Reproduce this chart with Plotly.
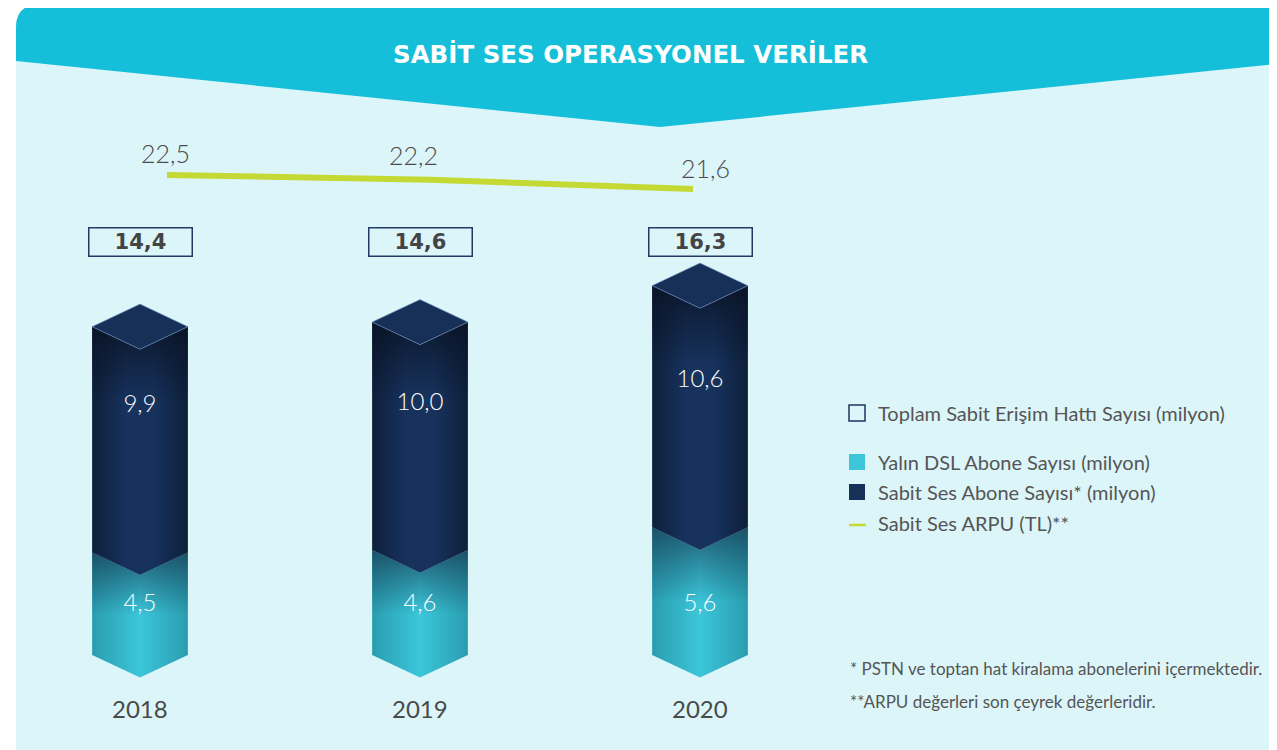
import plotly.graph_objects as go

# --- data -------------------------------------------------------------
years = ["2018", "2019", "2020"]
dsl = [4.5, 4.6, 5.6]            # Yalın DSL Abone Sayısı (milyon)
sabit_ses = [9.9, 10.0, 10.6]    # Sabit Ses Abone Sayısı* (milyon)
toplam = [14.4, 14.6, 16.3]      # Toplam Sabit Erişim Hattı Sayısı (milyon)
arpu = [22.5, 22.2, 21.6]        # Sabit Ses ARPU (TL)**

legend_labels = [
    "Toplam Sabit Erişim Hattı Sayısı (milyon)",
    "Yalın DSL Abone Sayısı (milyon)",
    "Sabit Ses Abone Sayısı* (milyon)",
    "Sabit Ses ARPU (TL)**",
]
notes = [
    "* PSTN ve toptan hat kiralama abonelerini içermektedir.",
    "**ARPU değerleri son çeyrek değerleridir.",
]
title = "SABİT SES OPERASYONEL VERİLER"

# --- style ------------------------------------------------------------
W, H = 1277, 750
OFF = 8          # page body margin
BANNER = "#15bfd9"
PANEL = "#dcf5f9"
NAVY_EDGE = "#0e1f3b"
NAVY_MID = "#17325c"
NAVY_TOP = "#163058"
CYAN_EDGE = "#2a9db0"
CYAN_MID = "#3cc6da"
LIME = "#c5d935"
TXT = "#4a4a4a"
FONT = "Lato"

HALF_W = 0.171   # half width of a prism (x units)
DEPTH = 0.99     # depth of the diamond top / chevron (y units)
SES_LABEL_OFS = 6.4   # navy value label, above the DSL boundary (y units)
DSL_LABEL_Y = 2.2     # cyan value label height (y units)


def fmt(v):
    return f"{v:.1f}".replace(".", ",")


def pp(x, y):
    # screen pixel -> paper coordinates
    return (x - OFF) / W, 1 - (y - OFF) / H


fig = go.Figure()


def face(xc, top, bottom, base_scale, shade_scale):
    xs = [xc - HALF_W, xc, xc + HALF_W, xc + HALF_W, xc, xc - HALF_W, xc - HALF_W]
    ys = [top, top - DEPTH, top, bottom, bottom - DEPTH, bottom, top]
    fig.add_trace(go.Scatter(x=xs, y=ys, mode="lines", fill="toself",
                             line=dict(width=0), hoverinfo="skip",
                             fillgradient=dict(type="horizontal", colorscale=base_scale)))
    fig.add_trace(go.Scatter(x=xs, y=ys, mode="lines", fill="toself",
                             line=dict(width=0), hoverinfo="skip",
                             fillgradient=dict(type="vertical", colorscale=shade_scale)))


for i, yr in enumerate(years):
    mid = dsl[i]
    top = dsl[i] + sabit_ses[i]
    # cyan (DSL) part
    face(i, mid, 0,
         [[0, CYAN_EDGE], [0.5, CYAN_MID], [1, CYAN_EDGE]],
         [[0, "rgba(20,60,80,0)"], [0.5, "rgba(20,60,80,0)"], [1, "rgba(22,55,80,0.75)"]])
    # navy (Sabit Ses) part
    face(i, top, mid,
         [[0, NAVY_EDGE], [0.35, NAVY_MID], [0.65, NAVY_MID], [1, NAVY_EDGE]],
         [[0, "rgba(8,16,32,0)"], [0.7, "rgba(8,16,32,0)"], [1, "rgba(8,16,32,0.75)"]])
    # top diamond
    fig.add_trace(go.Scatter(
        x=[i - HALF_W, i, i + HALF_W, i, i - HALF_W],
        y=[top, top + DEPTH, top, top - DEPTH, top],
        mode="lines", fill="toself", fillcolor=NAVY_TOP,
        line=dict(width=1, color="rgba(120,150,200,0.6)"), hoverinfo="skip"))

# values inside the bars
fig.add_trace(go.Scatter(
    x=[0, 1, 2], y=[d + SES_LABEL_OFS for d in dsl],
    mode="text", text=[fmt(v) for v in sabit_ses],
    textfont=dict(family=FONT, size=24, color="white", weight=300), hoverinfo="skip"))
fig.add_trace(go.Scatter(
    x=[0, 1, 2], y=[DSL_LABEL_Y] * len(dsl),
    mode="text", text=[fmt(v) for v in dsl],
    textfont=dict(family=FONT, size=24, color="white", weight=300), hoverinfo="skip"))

# ARPU line
fig.add_trace(go.Scatter(
    x=[0, 1, 2], y=arpu, xaxis="x2", yaxis="y2", mode="lines",
    line=dict(color=LIME, width=6), hoverinfo="skip"))
for i, (v, dx, dy) in enumerate(zip(arpu, [-2, -17, 12], [22, 25, 21])):
    fig.add_annotation(x=i, y=v, xref="x2", yref="y2", text=fmt(v), showarrow=False,
                       xshift=dx, yshift=dy,
                       font=dict(family=FONT, size=25, color=TXT, weight=300))

# totals in boxes and year labels
for i, v in enumerate(toplam):
    fig.add_annotation(x=i, xref="x", y=pp(0, 241.5)[1], yref="paper", yanchor="middle",
                       text=f"<b>{fmt(v)}</b>", showarrow=False,
                       width=100, height=25, borderpad=1,
                       bordercolor="#1f3b66", borderwidth=1.5,
                       font=dict(family="DejaVu Sans", size=21, color="#444444"))
for i, yr in enumerate(years):
    fig.add_annotation(x=i, xref="x", y=pp(0, 708)[1], yref="paper", yanchor="middle",
                       text=yr, showarrow=False,
                       font=dict(family=FONT, size=24, color=TXT))

# --- background panel and banner ---------------------------------------
shapes = []
x0, y0 = pp(16, 50)
shapes.append(dict(type="rect", xref="paper", yref="paper", x0=x0, y0=-0.05, x1=1.05, y1=y0,
                   fillcolor=PANEL, line=dict(width=0), layer="below"))
pts = [(16, 61), (16, 27), (16, 5), (38, 5), (W + 20, 5), (W + 20, 62), (660, 127)]
p = [pp(*q) for q in pts]
path = (f"M{p[0][0]},{p[0][1]} L{p[1][0]},{p[1][1]} Q{p[2][0]},{p[2][1]} {p[3][0]},{p[3][1]} "
        f"L{p[4][0]},{p[4][1]} L{p[5][0]},{p[5][1]} L{p[6][0]},{p[6][1]} Z")
shapes.append(dict(type="path", xref="paper", yref="paper", path=path,
                   fillcolor=BANNER, line=dict(width=0), layer="below"))

fig.add_annotation(x=pp(630, 0)[0], y=pp(0, 55)[1], xref="paper", yref="paper",
                   xanchor="center", yanchor="middle",
                   text=f"<b>{title}</b>", showarrow=False,
                   font=dict(family="DejaVu Sans", size=24.5, color="white"))

# --- legend (manual) ---------------------------------------------------
leg_y = [413, 462, 492, 523]
sq = 8
a, b = pp(849, leg_y[0] - sq), pp(865, leg_y[0] + sq)
shapes.append(dict(type="rect", xref="paper", yref="paper", x0=a[0], y0=b[1], x1=b[0], y1=a[1],
                   line=dict(color="#1d3560", width=1.5), fillcolor="rgba(0,0,0,0)"))
for yy, col in [(leg_y[1], CYAN_MID), (leg_y[2], NAVY_TOP)]:
    a, b = pp(849, yy - sq), pp(865, yy + sq)
    shapes.append(dict(type="rect", xref="paper", yref="paper", x0=a[0], y0=b[1], x1=b[0], y1=a[1],
                       line=dict(width=0), fillcolor=col))
a, b = pp(849, leg_y[3] + 2), pp(866, leg_y[3] + 2)
shapes.append(dict(type="line", xref="paper", yref="paper", x0=a[0], y0=a[1], x1=b[0], y1=b[1],
                   line=dict(color=LIME, width=2.5)))
for yy, lab in zip(leg_y, legend_labels):
    fig.add_annotation(x=pp(876, 0)[0], y=pp(0, yy)[1], xref="paper", yref="paper",
                       text=lab, showarrow=False, xanchor="left", yanchor="middle",
                       font=dict(family=FONT, size=20, color="#555555"))
for yy, note in zip([668, 701], notes):
    fig.add_annotation(x=pp(848, 0)[0], y=pp(0, yy)[1], xref="paper", yref="paper",
                       text=note, showarrow=False, xanchor="left", yanchor="middle",
                       font=dict(family=FONT, size=17, color="#555555"))

# --- axes ----------------------------------------------------------------
# x: bar 0 at screen 140px, 280 px per bar; y: 0 at screen 655px, 22.8 px per unit
bx, by = 140 - OFF, 655 - OFF
lx, ly = 167 - OFF, 175 - OFF
fig.update_layout(
    width=W, height=H, autosize=False,
    margin=dict(l=0, r=0, t=0, b=0),
    paper_bgcolor="white", plot_bgcolor="rgba(0,0,0,0)",
    showlegend=False,
    shapes=shapes,
    xaxis=dict(range=[-bx / 280, (W - bx) / 280], visible=False, fixedrange=True),
    yaxis=dict(range=[-(H - by) / 22.8, by / 22.8], visible=False, fixedrange=True),
    xaxis2=dict(range=[-lx / 263, (W - lx) / 263], overlaying="x",
                visible=False, fixedrange=True),
    yaxis2=dict(range=[22.5 - (H - ly) / 15.56, 22.5 + ly / 15.56], overlaying="y",
                visible=False, fixedrange=True),
)

fig.write_html("out.html")
